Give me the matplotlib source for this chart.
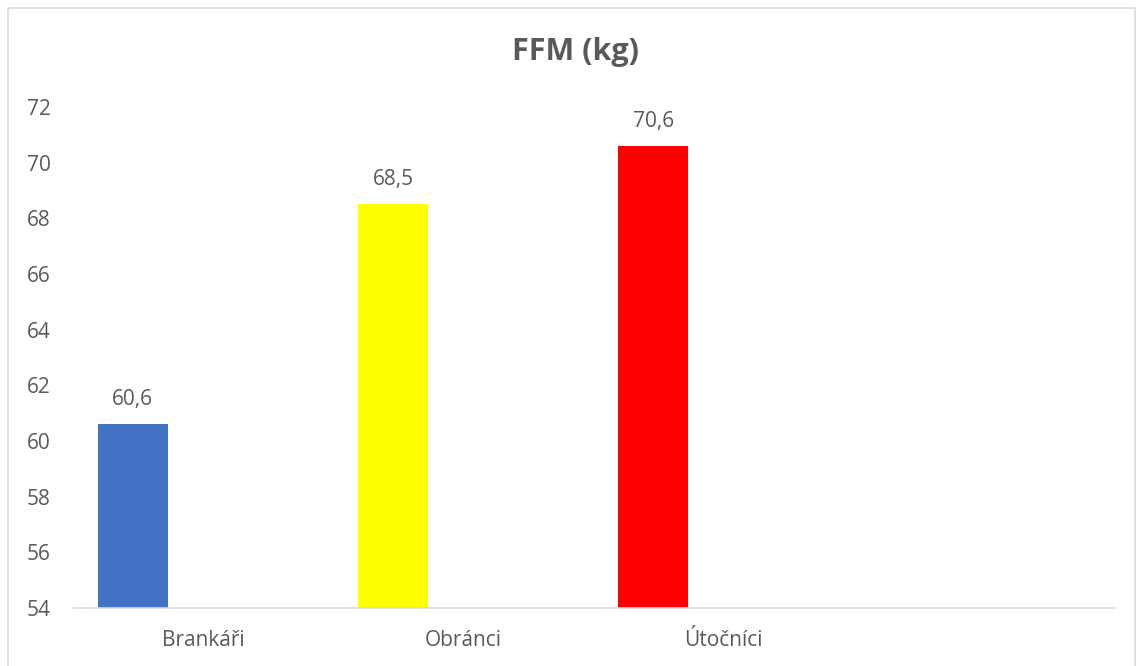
import numpy as np
import matplotlib
matplotlib.use('Agg')
import matplotlib.pyplot as plt
from matplotlib.patches import Rectangle

# FFM values per player position
categories = ['Brankáři', 'Obránci', 'Útočníci', '']
values = [60.6, 68.5, 70.6, np.nan]
labels = ['60,6', '68,5', '70,6', '']
colors = ['#4472C4', '#FFFF00', '#FF0000', '#FFFFFF']
yticks = [54, 56, 58, 60, 62, 64, 66, 68, 70, 72]

TEXT = '#595959'
plt.rcParams['font.family'] = ['Open Sans', 'DejaVu Sans']

fig = plt.figure(figsize=(11.39, 6.66), dpi=100)
ax = fig.add_axes([73 / 1139, 58 / 666, (1114 - 73) / 1139, (608 - 107) / 666])

# chart border
fig.patches.append(Rectangle((8 / 1139, -0.01), (1135 - 8) / 1139, (658 + 0.01 * 666) / 666,
                             transform=fig.transFigure, fill=False,
                             edgecolor='#d9d9d9', linewidth=1.2))

x = np.arange(len(categories))
width = 0.27
offset = -width  # first slot of a three-slot cluster
for xi, v, c, lab in zip(x, values, colors, labels):
    if np.isnan(v):
        continue
    ax.bar(xi + offset, v - 54, bottom=54, width=width, color=c)
    ax.text(xi + offset, v + 0.5, lab, ha='center', va='bottom',
            fontsize=15, color=TEXT)

ax.set_xlim(-0.5, len(categories) - 0.5)
ax.set_ylim(54, 72)
ax.set_yticks(yticks)
ax.set_yticklabels([str(t) for t in yticks], fontsize=15, color=TEXT)
ax.set_xticks(x)
ax.set_xticklabels(categories, fontsize=15, color=TEXT)
ax.tick_params(axis='y', length=0, pad=16)
ax.tick_params(axis='x', length=0, pad=16)

for s in ['top', 'right', 'left']:
    ax.spines[s].set_visible(False)
ax.spines['bottom'].set_color('#d9d9d9')
ax.spines['bottom'].set_linewidth(1.2)

fig.text(575 / 1139, 1 - 52 / 666, 'FFM (kg)', ha='center', va='center',
         fontsize=22, fontweight='bold', color=TEXT)

fig.savefig('out.png', dpi=100)
